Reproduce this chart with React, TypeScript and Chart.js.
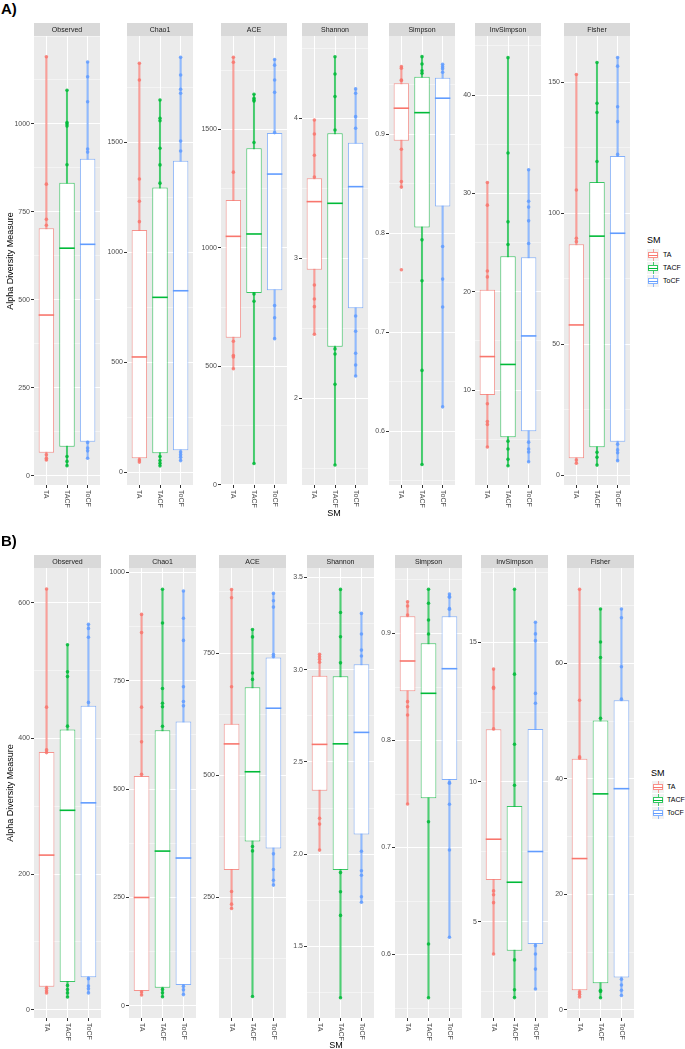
import React, { useEffect, useRef } from 'react';
import { Chart, registerables } from 'chart.js';

Chart.register(...registerables);

const GROUPS = ['TA', 'TACF', 'ToCF'];
const METRICS = ['Observed', 'Chao1', 'ACE', 'Shannon', 'Simpson', 'InvSimpson', 'Fisher'];
const GROUP_RGB = [[248, 118, 109], [0, 186, 56], [97, 156, 255]];

// ---------- Panel A : box stats per group [min, q1, median, q3, max] ----------
const A_OBSERVED_BOX = [[43, 66, 457, 704, 1191], [29, 83, 647, 833, 1096], [50, 97, 658, 901, 1176]];
const A_OBSERVED_PTS = [[1191, 829, 729, 712, 60, 50, 45], [1096, 1004, 1000, 994, 884, 55, 41, 29], [1176, 1134, 1063, 929, 920, 95, 79, 71, 50]];
const A_OBSERVED_TICKS = [0, 250, 500, 750, 1000];
const A_OBSERVED_LABELS = ['0', '250', '500', '750', '1000'];
const A_OBSERVED_RANGE = [-26, 1250];

const A_CHAO1_BOX = [[46, 64, 524, 1101, 1859], [29, 86, 795, 1294, 1692], [53, 100, 825, 1416, 1886]];
const A_CHAO1_PTS = [[1859, 1783, 1333, 1232, 1139, 56, 46], [1692, 1609, 1598, 1473, 1397, 1314, 71, 53, 41, 29], [1886, 1806, 1741, 1723, 1506, 1460, 92, 80, 68, 53]];
const A_CHAO1_TICKS = [0, 500, 1000, 1500];
const A_CHAO1_LABELS = ['0', '500', '1000', '1500'];
const A_CHAO1_RANGE = [-58, 1983];

const A_ACE_BOX = [[490, 621, 1049, 1202, 1805], [90, 810, 1059, 1421, 1649], [617, 821, 1312, 1485, 1796]];
const A_ACE_PTS = [[1805, 1784, 1320, 606, 546, 540, 490], [1649, 1632, 1625, 1620, 1445, 806, 775, 90], [1796, 1772, 1709, 1657, 1487, 757, 705, 617]];
const A_ACE_TICKS = [0, 500, 1000, 1500];
const A_ACE_LABELS = ['0', '500', '1000', '1500'];
const A_ACE_RANGE = [-1, 1895];

const A_SHANNON_BOX = [[2.459, 2.92, 3.406, 3.573, 3.989], [1.525, 2.37, 3.394, 3.894, 4.441], [2.161, 2.644, 3.513, 3.827, 4.211]];
const A_SHANNON_PTS = [[3.989, 3.889, 3.737, 3.582, 2.811, 2.711, 2.656, 2.459], [4.441, 4.318, 4.156, 3.918, 2.354, 2.318, 2.101, 1.525], [4.211, 4.18, 4.013, 3.93, 2.589, 2.48, 2.323, 2.239, 2.161]];
const A_SHANNON_TICKS = [2, 3, 4];
const A_SHANNON_LABELS = ['2', '3', '4'];
const A_SHANNON_RANGE = [1.382, 4.589];

const A_SIMPSON_BOX = [[0.8467, 0.8937, 0.9265, 0.9517, 0.9685], [0.5662, 0.8059, 0.922, 0.9584, 0.9786], [0.6245, 0.8271, 0.9366, 0.9574, 0.9709]];
const A_SIMPSON_PTS = [[0.9685, 0.9669, 0.955, 0.9545, 0.885, 0.8523, 0.8467, 0.7631], [0.9786, 0.9712, 0.9644, 0.9618, 0.7934, 0.752, 0.6614, 0.5662], [0.9709, 0.9685, 0.9665, 0.9628, 0.7867, 0.7537, 0.7255, 0.6245]];
const A_SIMPSON_TICKS = [0.6, 0.7, 0.8, 0.9];
const A_SIMPSON_LABELS = ['0.6', '0.7', '0.8', '0.9'];
const A_SIMPSON_RANGE = [0.5455, 0.9995];

const A_INVSIMPSON_BOX = [[4.2, 9.5, 13.4, 20.2, 31.1], [2.3, 5.2, 12.6, 23.6, 43.8], [2.7, 5.8, 15.5, 23.5, 32.4]];
const A_INVSIMPSON_PTS = [[31.1, 28.8, 22.1, 21.5, 8.6, 6.8, 6.5, 4.2], [43.8, 34.1, 27.1, 24.8, 4.8, 4.0, 2.95, 2.3], [32.4, 29.2, 28.6, 27.2, 24.9, 4.7, 4.0, 3.7, 2.7]];
const A_INVSIMPSON_TICKS = [10, 20, 30, 40];
const A_INVSIMPSON_LABELS = ['10', '20', '30', '40'];
const A_INVSIMPSON_RANGE = [0.34, 46.0];

const A_FISHER_BOX = [[4.6, 6.5, 57.4, 88.2, 153], [3.9, 10.7, 91.3, 112, 157.6], [5.6, 12.8, 92.4, 121.9, 159.5]];
const A_FISHER_PTS = [[153, 108.9, 90.5, 89.2, 5.8, 4.6], [157.6, 142, 138.5, 119.8, 8.8, 6.9, 3.9], [159.5, 156.2, 140.7, 135, 122.5, 11.9, 9.7, 8.6, 5.6]];
const A_FISHER_TICKS = [0, 50, 100, 150];
const A_FISHER_LABELS = ['0', '50', '100', '150'];
const A_FISHER_RANGE = [-3.7, 167.7];

// ---------- Panel B ----------
const B_OBSERVED_BOX = [[25, 34, 228, 380, 620], [19, 41, 294, 413, 538], [25, 48, 305, 448, 568]];
const B_OBSERVED_PTS = [[620, 446, 383, 379, 32, 28, 25], [538, 498, 491, 418, 36, 30, 25, 19], [568, 562, 549, 453, 46, 35, 31, 25]];
const B_OBSERVED_TICKS = [0, 200, 400, 600];
const B_OBSERVED_LABELS = ['0', '200', '400', '600'];
const B_OBSERVED_RANGE = [-12, 651];

const B_CHAO1_BOX = [[25, 34, 250, 530, 903], [21, 42, 357, 636, 961], [26, 48, 341, 656, 957]];
const B_CHAO1_PTS = [[903, 861, 689, 609, 534, 32, 25], [961, 883, 732, 698, 690, 645, 38, 30, 21], [957, 894, 843, 736, 702, 692, 45, 37, 26]];
const B_CHAO1_TICKS = [0, 250, 500, 750, 1000];
const B_CHAO1_LABELS = ['0', '250', '500', '750', '1000'];
const B_CHAO1_RANGE = [-28, 1010];

const B_ACE_BOX = [[227, 306, 564, 605, 880], [47, 364, 507, 680, 798], [275, 350, 637, 741, 872]];
const B_ACE_PTS = [[880, 863, 681, 262, 236, 227], [798, 783, 709, 696, 354, 345, 47], [872, 857, 844, 747, 743, 339, 307, 285, 275]];
const B_ACE_TICKS = [250, 500, 750];
const B_ACE_LABELS = ['250', '500', '750'];
const B_ACE_RANGE = [3, 924];

const B_SHANNON_BOX = [[2.022, 2.344, 2.595, 2.967, 3.083], [1.222, 1.914, 2.598, 2.964, 3.435], [1.739, 2.107, 2.66, 3.029, 3.305]];
const B_SHANNON_PTS = [[3.083, 3.07, 3.056, 3.04, 2.194, 2.163, 2.022], [3.435, 3.31, 3.178, 3.037, 1.9, 1.796, 1.668, 1.222], [3.305, 3.193, 3.106, 3.074, 2.016, 1.91, 1.886, 1.769, 1.739]];
const B_SHANNON_TICKS = [1.5, 2.0, 2.5, 3.0, 3.5];
const B_SHANNON_LABELS = ['1.5', '2.0', '2.5', '3.0', '3.5'];
const B_SHANNON_RANGE = [1.112, 3.551];

const B_SIMPSON_BOX = [[0.7407, 0.846, 0.8743, 0.9161, 0.9297], [0.5596, 0.746, 0.8441, 0.8908, 0.9413], [0.6161, 0.7631, 0.8671, 0.9161, 0.9369]];
const B_SIMPSON_PTS = [[0.9297, 0.9257, 0.9173, 0.8363, 0.8316, 0.8238, 0.7407], [0.9413, 0.9282, 0.9126, 0.8995, 0.7241, 0.6098, 0.5596], [0.9369, 0.9345, 0.9338, 0.9232, 0.9226, 0.76, 0.7606, 0.7404, 0.6977, 0.6161]];
const B_SIMPSON_TICKS = [0.6, 0.7, 0.8, 0.9];
const B_SIMPSON_LABELS = ['0.6', '0.7', '0.8', '0.9'];
const B_SIMPSON_RANGE = [0.5407, 0.9612];

const B_INVSIMPSON_BOX = [[3.84, 6.49, 7.95, 11.89, 14.04], [2.28, 3.96, 6.41, 9.14, 16.9], [2.59, 4.2, 7.51, 11.9, 15.72]];
const B_INVSIMPSON_PTS = [[14.04, 13.39, 13.35, 11.9, 6.1, 5.96, 5.68, 3.84], [16.9, 13.86, 11.35, 9.88, 3.63, 2.56, 2.28], [15.72, 15.3, 15.06, 13.17, 12.82, 4.14, 3.84, 3.3, 2.59]];
const B_INVSIMPSON_TICKS = [5, 10, 15];
const B_INVSIMPSON_LABELS = ['5', '10', '15'];
const B_INVSIMPSON_RANGE = [1.55, 17.66];

const B_FISHER_BOX = [[2.25, 3.4, 26.2, 43.5, 72.8], [2.1, 4.6, 37.4, 50.1, 69.4], [2.5, 5.6, 38.3, 53.6, 69.4]];
const B_FISHER_PTS = [[72.8, 53.6, 43.8, 43.6, 3.1, 2.7, 2.25], [69.4, 63.7, 61, 50.5, 3.4, 3.2, 2.1], [69.4, 67.9, 59.4, 53.8, 5.3, 4.3, 3.4, 2.5]];
const B_FISHER_TICKS = [0, 20, 40, 60];
const B_FISHER_LABELS = ['0', '20', '40', '60'];
const B_FISHER_RANGE = [-1.4, 76.5];

type Facet = { box: number[][]; pts: number[][]; ticks: number[]; labels: string[]; range: number[] };

const PANEL_A: Facet[] = [
  { box: A_OBSERVED_BOX, pts: A_OBSERVED_PTS, ticks: A_OBSERVED_TICKS, labels: A_OBSERVED_LABELS, range: A_OBSERVED_RANGE },
  { box: A_CHAO1_BOX, pts: A_CHAO1_PTS, ticks: A_CHAO1_TICKS, labels: A_CHAO1_LABELS, range: A_CHAO1_RANGE },
  { box: A_ACE_BOX, pts: A_ACE_PTS, ticks: A_ACE_TICKS, labels: A_ACE_LABELS, range: A_ACE_RANGE },
  { box: A_SHANNON_BOX, pts: A_SHANNON_PTS, ticks: A_SHANNON_TICKS, labels: A_SHANNON_LABELS, range: A_SHANNON_RANGE },
  { box: A_SIMPSON_BOX, pts: A_SIMPSON_PTS, ticks: A_SIMPSON_TICKS, labels: A_SIMPSON_LABELS, range: A_SIMPSON_RANGE },
  { box: A_INVSIMPSON_BOX, pts: A_INVSIMPSON_PTS, ticks: A_INVSIMPSON_TICKS, labels: A_INVSIMPSON_LABELS, range: A_INVSIMPSON_RANGE },
  { box: A_FISHER_BOX, pts: A_FISHER_PTS, ticks: A_FISHER_TICKS, labels: A_FISHER_LABELS, range: A_FISHER_RANGE },
];
const PANEL_B: Facet[] = [
  { box: B_OBSERVED_BOX, pts: B_OBSERVED_PTS, ticks: B_OBSERVED_TICKS, labels: B_OBSERVED_LABELS, range: B_OBSERVED_RANGE },
  { box: B_CHAO1_BOX, pts: B_CHAO1_PTS, ticks: B_CHAO1_TICKS, labels: B_CHAO1_LABELS, range: B_CHAO1_RANGE },
  { box: B_ACE_BOX, pts: B_ACE_PTS, ticks: B_ACE_TICKS, labels: B_ACE_LABELS, range: B_ACE_RANGE },
  { box: B_SHANNON_BOX, pts: B_SHANNON_PTS, ticks: B_SHANNON_TICKS, labels: B_SHANNON_LABELS, range: B_SHANNON_RANGE },
  { box: B_SIMPSON_BOX, pts: B_SIMPSON_PTS, ticks: B_SIMPSON_TICKS, labels: B_SIMPSON_LABELS, range: B_SIMPSON_RANGE },
  { box: B_INVSIMPSON_BOX, pts: B_INVSIMPSON_PTS, ticks: B_INVSIMPSON_TICKS, labels: B_INVSIMPSON_LABELS, range: B_INVSIMPSON_RANGE },
  { box: B_FISHER_BOX, pts: B_FISHER_PTS, ticks: B_FISHER_TICKS, labels: B_FISHER_LABELS, range: B_FISHER_RANGE },
];

// ---------- layout / style ----------
const FONT = '"Liberation Sans", Arial, sans-serif';
const Y_AXIS_W = 30;
const STRIP_H = 13;
const X_TICK_LEN = 3;
const X_LABEL_SPACE = 22;
const BOX_WIDTH = 0.75;
const LAYOUT_A = { stripTop: 23, plotBottom: 485, lefts: [34, 127, 221, 302, 389, 475, 564], width: 70, yTitleX: 10, xTitleY: 513, legendTitle: [647, 240], legendKeyX: 647, legendRows: [255, 268, 281], legendTextX: 663, tag: 'A)', tagTop: 1 };
const LAYOUT_B = { stripTop: 555, plotBottom: 1018, lefts: [34, 129, 219, 307, 395, 481, 567], width: 71, yTitleX: 10, xTitleY: 1045, legendTitle: [651, 773], legendKeyX: 652, legendRows: [787, 800, 813], legendTextX: 667, tag: 'B)', tagTop: 533 };

const rgba = (rgb: number[], a: number) => `rgba(${rgb[0]},${rgb[1]},${rgb[2]},${a})`;

const facetPlugin = {
  id: 'facetDecor',
  beforeDraw(chart: any, _args: any, opts: any) {
    const { ctx, chartArea: a } = chart;
    ctx.save();
    ctx.fillStyle = '#EBEBEB';
    ctx.fillRect(a.left, a.top, a.right - a.left, a.bottom - a.top);
    ctx.fillStyle = '#D9D9D9';
    ctx.fillRect(a.left, a.top - STRIP_H, a.right - a.left, STRIP_H);
    ctx.fillStyle = '#1A1A1A';
    ctx.font = `7px ${FONT}`;
    ctx.textAlign = 'center';
    ctx.textBaseline = 'middle';
    ctx.fillText(opts.title, (a.left + a.right) / 2, a.top - STRIP_H / 2 + 0.5);
    ctx.restore();
  },
  afterDraw(chart: any) {
    const { ctx, chartArea: a } = chart;
    const xs = chart.scales.x;
    ctx.save();
    ctx.fillStyle = '#4D4D4D';
    ctx.font = `7px ${FONT}`;
    ctx.textAlign = 'left';
    ctx.textBaseline = 'middle';
    GROUPS.forEach((g, i) => {
      ctx.save();
      ctx.translate(xs.getPixelForValue(i), a.bottom + X_TICK_LEN + 2);
      ctx.rotate(Math.PI / 2);
      ctx.fillText(g, 0, 0);
      ctx.restore();
    });
    ctx.restore();
  },
};

function buildConfig(f: Facet, title: string): any {
  const step = f.ticks[1] - f.ticks[0];
  const gridVals: number[] = [];
  for (let k = 0; k <= 2 * (f.ticks.length + 1); k++) {
    const v = f.ticks[0] - step + (k * step) / 2;
    if (v >= f.range[0] && v <= f.range[1]) gridVals.push(v);
  }
  const majorIdx = (v: number) => f.ticks.findIndex((t) => Math.abs(t - v) < step * 1e-6);

  const whiskers = f.box.map((b, i) => ({ x: i, y: [b[0], b[4]] }));
  const boxes = f.box.map((b, i) => ({ x: i, y: [b[1], b[3]] }));
  const medians = f.box.map((b, i) => ({ x: i, y: b[2] }));
  const points = f.pts.flatMap((arr, i) => arr.map((v) => ({ x: i, y: v })));
  const pointColors = f.pts.flatMap((arr, i) => arr.map(() => rgba(GROUP_RGB[i], 0.85)));
  const halfBox = (c: any) => {
    const xs = c.chart.scales.x;
    return (Math.abs(xs.getPixelForValue(1) - xs.getPixelForValue(0)) * BOX_WIDTH) / 2;
  };

  return {
    type: 'bar',
    data: {
      datasets: [
        { type: 'scatter', data: points, order: 0, pointRadius: 1.8, pointBackgroundColor: pointColors, pointBorderWidth: 0 },
        { type: 'scatter', data: medians, order: 1, pointStyle: 'line', pointRadius: halfBox, pointBorderColor: GROUP_RGB.map((c) => rgba(c, 1)), pointBorderWidth: 1.6 },
        { type: 'bar', data: boxes, order: 2, grouped: false, barPercentage: BOX_WIDTH, categoryPercentage: 1, backgroundColor: '#FFFFFF', borderColor: GROUP_RGB.map((c) => rgba(c, 0.75)), borderWidth: 1, borderSkipped: false },
        { type: 'bar', data: whiskers, order: 3, grouped: false, barThickness: 1.4, backgroundColor: GROUP_RGB.map((c) => rgba(c, 0.7)), borderWidth: 0 },
      ],
    },
    options: {
      animation: false,
      responsive: false,
      events: [],
      layout: { padding: { top: STRIP_H, bottom: X_LABEL_SPACE, left: 0, right: 0 } },
      plugins: { legend: { display: false }, tooltip: { enabled: false }, facetDecor: { title } },
      scales: {
        x: {
          type: 'linear', min: -0.6, max: 2.6, offset: false,
          afterBuildTicks: (s: any) => { s.ticks = GROUPS.map((_, i) => ({ value: i })); },
          afterFit: (s: any) => { s.height = X_TICK_LEN; },
          ticks: { display: false },
          grid: { color: '#FFFFFF', lineWidth: 1, offset: false, drawTicks: true, tickLength: X_TICK_LEN, tickColor: '#333333', tickWidth: 1 },
          border: { display: false },
        },
        y: {
          type: 'linear', min: f.range[0], max: f.range[1], beginAtZero: false,
          afterBuildTicks: (s: any) => { s.ticks = gridVals.map((v) => ({ value: v })); },
          afterFit: (s: any) => { s.width = Y_AXIS_W; },
          ticks: {
            autoSkip: false, padding: 1, color: '#4D4D4D', font: { size: 7, family: FONT },
            callback: (v: number) => { const i = majorIdx(v); return i >= 0 ? f.labels[i] : ''; },
          },
          grid: {
            color: (c: any) => (majorIdx(c.tick.value) >= 0 ? '#FFFFFF' : 'rgba(255,255,255,0.75)'),
            lineWidth: (c: any) => (majorIdx(c.tick.value) >= 0 ? 1 : 0.6),
            drawTicks: true, tickLength: 3, tickWidth: 1,
            tickColor: (c: any) => (majorIdx(c.tick.value) >= 0 ? '#333333' : 'rgba(0,0,0,0)'),
          },
          border: { display: false },
        },
      },
    },
    plugins: [facetPlugin],
  };
}

function FacetChart({ facet, title, left, top, plotW, plotH }: { facet: Facet; title: string; left: number; top: number; plotW: number; plotH: number }) {
  const ref = useRef<HTMLCanvasElement>(null);
  useEffect(() => {
    const chart = new Chart(ref.current as HTMLCanvasElement, buildConfig(facet, title));
    return () => chart.destroy();
  }, [facet, title]);
  const w = plotW + Y_AXIS_W;
  const h = STRIP_H + plotH + X_TICK_LEN + X_LABEL_SPACE;
  return <canvas ref={ref} width={w} height={h} style={{ position: 'absolute', left: left - Y_AXIS_W, top, width: w, height: h }} />;
}

function LegendKey({ rgb, left, cy }: { rgb: number[]; left: number; cy: number }) {
  const c = rgba(rgb, 0.8);
  return (
    <div style={{ position: 'absolute', left, top: cy - 6, width: 12, height: 12, background: '#F2F2F2' }}>
      <div style={{ position: 'absolute', left: 5.5, top: 0, width: 1, height: 12, background: rgba(rgb, 0.7) }} />
      <div style={{ position: 'absolute', left: 1, top: 3, width: 10, height: 6, boxSizing: 'border-box', border: `1px solid ${c}`, background: '#FFFFFF' }} />
      <div style={{ position: 'absolute', left: 1, top: 5.5, width: 10, height: 1.2, background: rgba(rgb, 1) }} />
    </div>
  );
}

function Panel({ facets, L }: { facets: Facet[]; L: typeof LAYOUT_A }) {
  const plotTop = L.stripTop + STRIP_H;
  const firstLeft = L.lefts[0];
  const lastRight = L.lefts[L.lefts.length - 1] + L.width;
  const plotH = L.plotBottom - plotTop;
  const yTitleLen = 110;
  return (
    <>
      <div style={{ position: 'absolute', left: 1, top: L.tagTop, fontFamily: FONT, fontWeight: 'bold', fontSize: 15, lineHeight: 1, color: '#000' }}>{L.tag}</div>
      {facets.map((f, i) => (
        <FacetChart key={i} facet={f} title={METRICS[i]} left={L.lefts[i]} top={L.stripTop} plotW={L.width} plotH={plotH} />
      ))}
      <div style={{ position: 'absolute', left: L.yTitleX - yTitleLen / 2, top: Math.round((plotTop + L.plotBottom) / 2) - 5, width: yTitleLen, height: 10, textAlign: 'center', transform: 'rotate(-90deg)', fontFamily: FONT, fontSize: 9, lineHeight: '10px', whiteSpace: 'nowrap', color: '#000' }}>Alpha Diversity Measure</div>
      <div style={{ position: 'absolute', left: Math.round((firstLeft + lastRight) / 2) - 20, width: 40, textAlign: 'center', top: L.xTitleY - 5, fontFamily: FONT, fontSize: 9, lineHeight: '10px', whiteSpace: 'nowrap', color: '#000' }}>SM</div>
      <div style={{ position: 'absolute', left: L.legendTitle[0], top: L.legendTitle[1] - 5, fontFamily: FONT, fontSize: 9, lineHeight: '10px', color: '#000' }}>SM</div>
      {GROUPS.map((g, i) => (
        <React.Fragment key={g}>
          <LegendKey rgb={GROUP_RGB[i]} left={L.legendKeyX} cy={L.legendRows[i]} />
          <div style={{ position: 'absolute', left: L.legendTextX, top: L.legendRows[i] - 4, fontFamily: FONT, fontSize: 7, lineHeight: '8px', color: '#000' }}>{g}</div>
        </React.Fragment>
      ))}
    </>
  );
}

export default function App() {
  return (
    <div style={{ position: 'absolute', left: 0, top: 0, width: 685, height: 1049, background: '#FFFFFF', overflow: 'hidden' }}>
      <Panel facets={PANEL_A} L={LAYOUT_A} />
      <Panel facets={PANEL_B} L={LAYOUT_B} />
    </div>
  );
}
